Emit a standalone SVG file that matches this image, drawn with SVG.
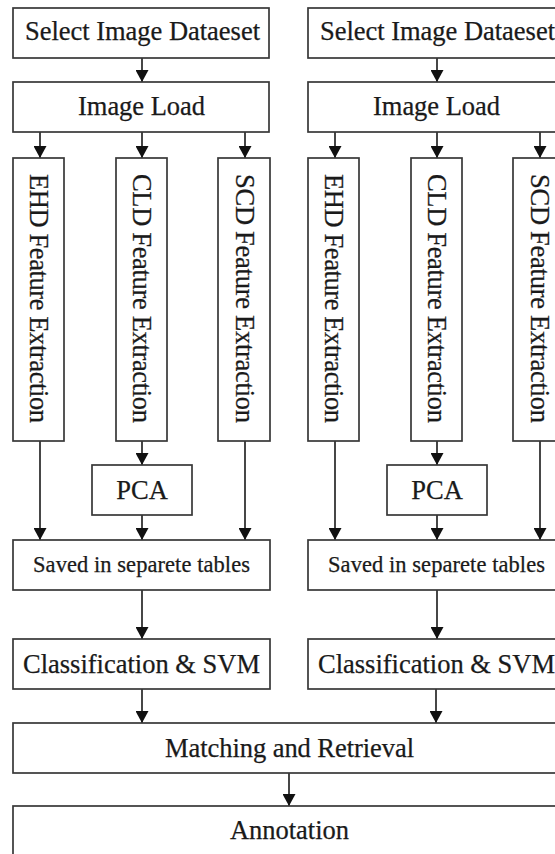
<svg xmlns="http://www.w3.org/2000/svg" width="555" height="854" viewBox="0 0 555 854">
<defs>
<style>
.b{fill:#fff;stroke:#383838;stroke-width:1.7}
.t{font-family:"Liberation Serif","Times New Roman",serif;font-size:26.5px;fill:#1a1a1a;stroke:#1a1a1a;stroke-width:0.25}
.s{font-size:22.5px}
.c line{stroke:#262626;stroke-width:1.7;marker-end:url(#ah)}
</style>
<marker id="ah" markerUnits="userSpaceOnUse" markerWidth="13" markerHeight="13" refX="12" refY="6.5" orient="auto">
<path d="M0,0 L12,6.5 L0,13 z" fill="#111"/>
</marker>
</defs>
<rect width="555" height="854" fill="#fff"/>
<g id="connectors" class="c">
<line x1="142" y1="58" x2="142" y2="82"/>
<line x1="40" y1="132" x2="40" y2="158"/>
<line x1="142" y1="132" x2="142" y2="158"/>
<line x1="245" y1="132" x2="245" y2="158"/>
<line x1="40" y1="441" x2="40" y2="540"/>
<line x1="142" y1="441" x2="142" y2="465"/>
<line x1="245" y1="441" x2="245" y2="540"/>
<line x1="142" y1="515" x2="142" y2="540"/>
<line x1="142" y1="590" x2="142" y2="639"/>
<line x1="142" y1="689" x2="142" y2="723"/>
<line x1="437" y1="58" x2="437" y2="82"/>
<line x1="335" y1="132" x2="335" y2="158"/>
<line x1="437" y1="132" x2="437" y2="158"/>
<line x1="540" y1="132" x2="540" y2="158"/>
<line x1="335" y1="441" x2="335" y2="540"/>
<line x1="437" y1="441" x2="437" y2="465"/>
<line x1="540" y1="441" x2="540" y2="540"/>
<line x1="437" y1="515" x2="437" y2="540"/>
<line x1="437" y1="590" x2="437" y2="639"/>
<line x1="436" y1="689" x2="436" y2="723"/>
<line x1="289" y1="773" x2="289" y2="806"/>
</g>
<g id="select1"><rect class="b" x="13" y="8" width="256" height="50"/><text class="t" x="25" y="40" textLength="235" lengthAdjust="spacing">Select Image Dataeset</text></g>
<g id="load1"><rect class="b" x="13" y="82" width="256" height="50"/><text class="t" x="78" y="115" textLength="127" lengthAdjust="spacing">Image Load</text></g>
<g id="ehd1"><rect class="b" x="13" y="158" width="51" height="283"/><text class="t" transform="translate(30,174) rotate(90)" textLength="249" lengthAdjust="spacing">EHD Feature Extraction</text></g>
<g id="cld1"><rect class="b" x="116" y="158" width="51" height="283"/><text class="t" transform="translate(133,174) rotate(90)" textLength="249" lengthAdjust="spacing">CLD Feature Extraction</text></g>
<g id="scd1"><rect class="b" x="218" y="158" width="52" height="283"/><text class="t" transform="translate(236,174) rotate(90)" textLength="249" lengthAdjust="spacing">SCD Feature Extraction</text></g>
<g id="pca1"><rect class="b" x="92" y="465" width="100" height="50"/><text class="t" x="142" y="498.5" text-anchor="middle">PCA</text></g>
<g id="saved1"><rect class="b" x="13" y="540" width="257" height="50"/><text class="t s" x="33" y="572" textLength="217" lengthAdjust="spacing">Saved in separete tables</text></g>
<g id="class1"><rect class="b" x="13" y="639" width="257" height="50"/><text class="t" x="23" y="673" textLength="237" lengthAdjust="spacing">Classification &amp; SVM</text></g>
<g id="select2"><rect class="b" x="308" y="8" width="256" height="50"/><text class="t" x="320" y="40" textLength="235" lengthAdjust="spacing">Select Image Dataeset</text></g>
<g id="load2"><rect class="b" x="308" y="82" width="256" height="50"/><text class="t" x="373" y="115" textLength="127" lengthAdjust="spacing">Image Load</text></g>
<g id="ehd2"><rect class="b" x="308" y="158" width="51" height="283"/><text class="t" transform="translate(325,174) rotate(90)" textLength="249" lengthAdjust="spacing">EHD Feature Extraction</text></g>
<g id="cld2"><rect class="b" x="411" y="158" width="51" height="283"/><text class="t" transform="translate(428,174) rotate(90)" textLength="249" lengthAdjust="spacing">CLD Feature Extraction</text></g>
<g id="scd2"><rect class="b" x="513" y="158" width="52" height="283"/><text class="t" transform="translate(531,174) rotate(90)" textLength="249" lengthAdjust="spacing">SCD Feature Extraction</text></g>
<g id="pca2"><rect class="b" x="387" y="465" width="100" height="50"/><text class="t" x="437" y="498.5" text-anchor="middle">PCA</text></g>
<g id="saved2"><rect class="b" x="308" y="540" width="257" height="50"/><text class="t s" x="328" y="572" textLength="217" lengthAdjust="spacing">Saved in separete tables</text></g>
<g id="class2"><rect class="b" x="308" y="639" width="257" height="50"/><text class="t" x="318" y="673" textLength="237" lengthAdjust="spacing">Classification &amp; SVM</text></g>
<g id="matching"><rect class="b" x="13" y="723" width="553" height="50"/><text class="t" x="165" y="757" textLength="249" lengthAdjust="spacing">Matching and Retrieval</text></g>
<g id="annotation"><rect class="b" x="13" y="806" width="553" height="52"/><text class="t" x="230" y="839" textLength="119" lengthAdjust="spacing">Annotation</text></g>
</svg>
